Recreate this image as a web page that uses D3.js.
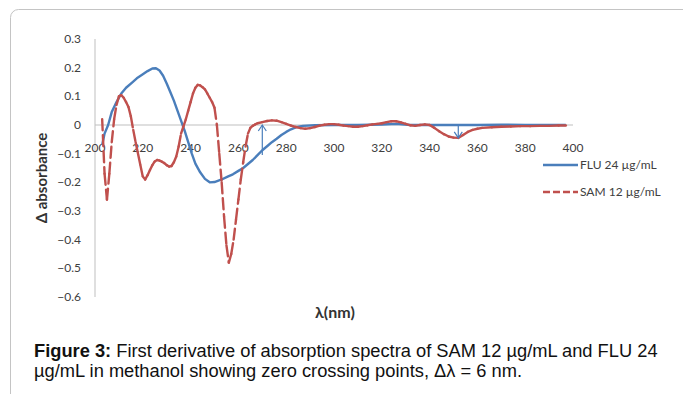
<!DOCTYPE html>
<html>
<head>
<meta charset="utf-8">
<script src="https://cdn.jsdelivr.net/npm/d3@7"></script>
<style>
  body { margin: 0; background: #fff; }
  svg { display: block; }
</style>
</head>
<body>
<div id="chart"></div>
<script>
// FLU 24 ug/mL (solid blue)
const fluLambda = [203, 204, 205.5, 207, 209, 211, 213, 215.5, 217.5, 219.7, 222, 224, 225.5, 227, 228.5, 230, 231.5, 233, 234.5, 236, 237.5, 239, 240.5, 242, 244, 246, 248, 250, 253, 255.5, 257.7, 260, 262, 264, 266, 268, 270, 272, 274, 276, 278, 280, 282, 284, 287, 292, 300, 310, 320, 326, 332, 340, 350, 360, 370, 380, 390, 397];
const fluValues = [-0.07, -0.03, 0.0, 0.045, 0.08, 0.11, 0.13, 0.148, 0.163, 0.175, 0.188, 0.197, 0.198, 0.19, 0.172, 0.145, 0.115, 0.085, 0.05, 0.015, -0.02, -0.06, -0.1, -0.135, -0.165, -0.188, -0.2, -0.199, -0.19, -0.18, -0.172, -0.16, -0.15, -0.136, -0.122, -0.105, -0.088, -0.074, -0.06, -0.048, -0.035, -0.024, -0.015, -0.008, -0.003, -0.001, 0.0, 0.0, 0.002, 0.004, 0.0, 0.0, 0.0, 0.0, 0.001, 0.0, 0.0, 0.0];

// SAM 12 ug/mL (dashed red)
const samLambda = [203, 204, 205, 206, 207, 208, 209, 210, 211, 212, 213, 214, 215, 216, 217, 218, 219, 220, 221, 222, 223, 224, 225, 226, 227, 228, 229, 230, 231, 232, 233, 234, 235, 236, 237, 238, 239, 240, 241, 242, 243, 244, 245, 246, 247, 248, 249, 250, 251, 252, 253, 254, 255, 256, 257, 258, 259, 260, 261, 262, 263, 264, 265, 266, 267, 268, 270, 272, 274, 276, 278, 280, 282, 284, 286, 288, 290, 292, 294, 296, 298, 300, 302, 304, 306, 308, 310, 312, 314, 316, 318, 320, 322, 324, 326, 328, 330, 332, 334, 336, 338, 340, 342, 344, 346, 348, 350, 352, 354, 356, 358, 360, 362, 366, 370, 374, 378, 382, 386, 390, 394, 397];
const samValues = [0.02, -0.17, -0.26, -0.17, -0.06, 0.02, 0.07, 0.1, 0.104, 0.095, 0.08, 0.063, 0.03, -0.017, -0.06, -0.1, -0.14, -0.18, -0.19, -0.175, -0.157, -0.14, -0.127, -0.122, -0.124, -0.128, -0.133, -0.14, -0.145, -0.143, -0.13, -0.11, -0.075, -0.03, -0.005, 0.02, 0.05, 0.08, 0.11, 0.13, 0.14, 0.138, 0.132, 0.124, 0.11, 0.095, 0.08, 0.06, 0.0, -0.1, -0.2, -0.32, -0.42, -0.48, -0.45, -0.4, -0.33, -0.26, -0.19, -0.13, -0.075, -0.03, -0.01, -0.003, 0.002, 0.006, 0.01, 0.014, 0.016, 0.015, 0.01, 0.004, -0.002, -0.007, -0.011, -0.013, -0.011, -0.007, -0.002, 0.001, 0.003, 0.003, 0.001, -0.002, -0.004, -0.006, -0.006, -0.004, -0.001, 0.002, 0.004, 0.006, 0.01, 0.013, 0.013, 0.009, 0.004, -0.001, -0.003, 0.0, 0.002, 0.0, -0.01, -0.022, -0.032, -0.04, -0.044, -0.045, -0.035, -0.024, -0.017, -0.013, -0.01, -0.008, -0.006, -0.005, -0.004, -0.004, -0.003, -0.003, -0.002, -0.002];

// zero-crossing arrows: [lambda, from, to]
const arrowMarks = [[270, -0.105, 0.0], [352, 0.0, -0.045]];

const xTicks = [200, 220, 240, 260, 280, 300, 320, 340, 360, 380, 400];
const yTicks = [0.3, 0.2, 0.1, 0, -0.1, -0.2, -0.3, -0.4, -0.5, -0.6];
const seriesNames = ["FLU 24 µg/mL", "SAM 12 µg/mL"];

const blue = "#4a7ebb", red = "#c0504d";
const uiFont = "Lato, 'Open Sans', sans-serif";

const svg = d3.select("#chart").append("svg")
  .attr("width", 683)
  .attr("height", 394);

// frame
svg.append("rect")
  .attr("x", 10.5).attr("y", 9.5)
  .attr("width", 720).attr("height", 420)
  .attr("rx", 8)
  .attr("fill", "none")
  .attr("stroke", "#c4c4c4");

const x = d3.scaleLinear().domain([200, 400]).range([95, 573]);
const y = d3.scaleLinear().domain([-0.6, 0.3]).range([297, 39]);

// y axis line and zero line
svg.append("line")
  .attr("x1", x(200)).attr("x2", x(200))
  .attr("y1", y(0.3)).attr("y2", y(-0.6))
  .attr("stroke", "#bfbfbf");
svg.append("line")
  .attr("x1", x(200)).attr("x2", x(400))
  .attr("y1", y(0)).attr("y2", y(0))
  .attr("stroke", "#bfbfbf");

// tick labels
svg.selectAll(".ytick").data(yTicks).enter().append("text")
  .attr("x", 81)
  .attr("y", d => y(d) + 4)
  .attr("text-anchor", "end")
  .attr("font-family", uiFont)
  .attr("font-size", 12)
  .attr("fill", "#404040")
  .text(d => d === 0 ? "0" : d3.format(".1f")(d));

svg.selectAll(".xtick").data(xTicks).enter().append("text")
  .attr("x", d => x(d))
  .attr("y", 152)
  .attr("text-anchor", "middle")
  .attr("font-family", uiFont)
  .attr("font-size", 12)
  .attr("fill", "#404040")
  .text(d => d);

// axis titles
svg.append("text")
  .attr("transform", "translate(47,178) rotate(-90)")
  .attr("text-anchor", "middle")
  .attr("font-family", uiFont)
  .attr("font-weight", "bold")
  .attr("font-size", 15)
  .attr("fill", "#333")
  .text("Δ absorbance");

svg.append("text")
  .attr("x", 335).attr("y", 318)
  .attr("text-anchor", "middle")
  .attr("font-family", uiFont)
  .attr("font-weight", "bold")
  .attr("font-size", 16)
  .attr("fill", "#333")
  .text("λ(nm)");

const line = d3.line().x(d => x(d[0])).y(d => y(d[1]));

// FLU solid
const fluPts = fluLambda.map((l, i) => [l, fluValues[i]]);
svg.append("path")
  .attr("d", line(fluPts))
  .attr("fill", "none")
  .attr("stroke", blue)
  .attr("stroke-width", 2.4)
  .attr("stroke-linejoin", "round");

// SAM dashed, pattern restarts on every segment (as in the original export)
const samPts = samLambda.map((l, i) => [l, samValues[i]]);
svg.append("g").selectAll("path")
  .data(d3.pairs(samPts)).enter().append("path")
  .attr("d", d => line(d))
  .attr("fill", "none")
  .attr("stroke", red)
  .attr("stroke-width", 2.4)
  .attr("stroke-linecap", "round")
  .attr("stroke-dasharray", "11,5");

// arrows
arrowMarks.forEach(([l, from, to]) => {
  const ax = x(l), y0 = y(from), y1 = y(to);
  const dir = y1 < y0 ? 1 : -1;
  svg.append("line")
    .attr("x1", ax).attr("x2", ax).attr("y1", y0).attr("y2", y1)
    .attr("stroke", blue).attr("stroke-width", 1.2);
  svg.append("path")
    .attr("d", `M${ax - 4},${y1 + dir * 6}L${ax},${y1}L${ax + 4},${y1 + dir * 6}`)
    .attr("fill", "none")
    .attr("stroke", blue).attr("stroke-width", 1.2);
});

// legend
const legend = svg.append("g");
seriesNames.forEach((name, i) => {
  const ly = 165 + i * 27;
  legend.append("line")
    .attr("x1", 543).attr("x2", 578).attr("y1", ly).attr("y2", ly)
    .attr("stroke", i === 0 ? blue : red)
    .attr("stroke-width", 2.4)
    .attr("stroke-dasharray", i === 0 ? null : "7,3");
  legend.append("text")
    .attr("x", 580).attr("y", ly + 4)
    .attr("font-family", uiFont)
    .attr("font-size", 12)
    .attr("fill", "#404040")
    .text(name);
});

// caption
const cap = svg.append("g")
  .attr("font-family", "'Liberation Sans', Arial, sans-serif")
  .attr("font-size", 18.3)
  .attr("fill", "#111");
const l1 = cap.append("text").attr("x", 34).attr("y", 357);
l1.append("tspan").attr("font-weight", "bold").text("Figure 3:");
l1.append("tspan").text(" First derivative of absorption spectra of SAM 12 µg/mL and FLU 24");
cap.append("text").attr("x", 34).attr("y", 377)
  .text("µg/mL in methanol showing zero crossing points, Δλ = 6 nm.");
</script>
</body>
</html>
